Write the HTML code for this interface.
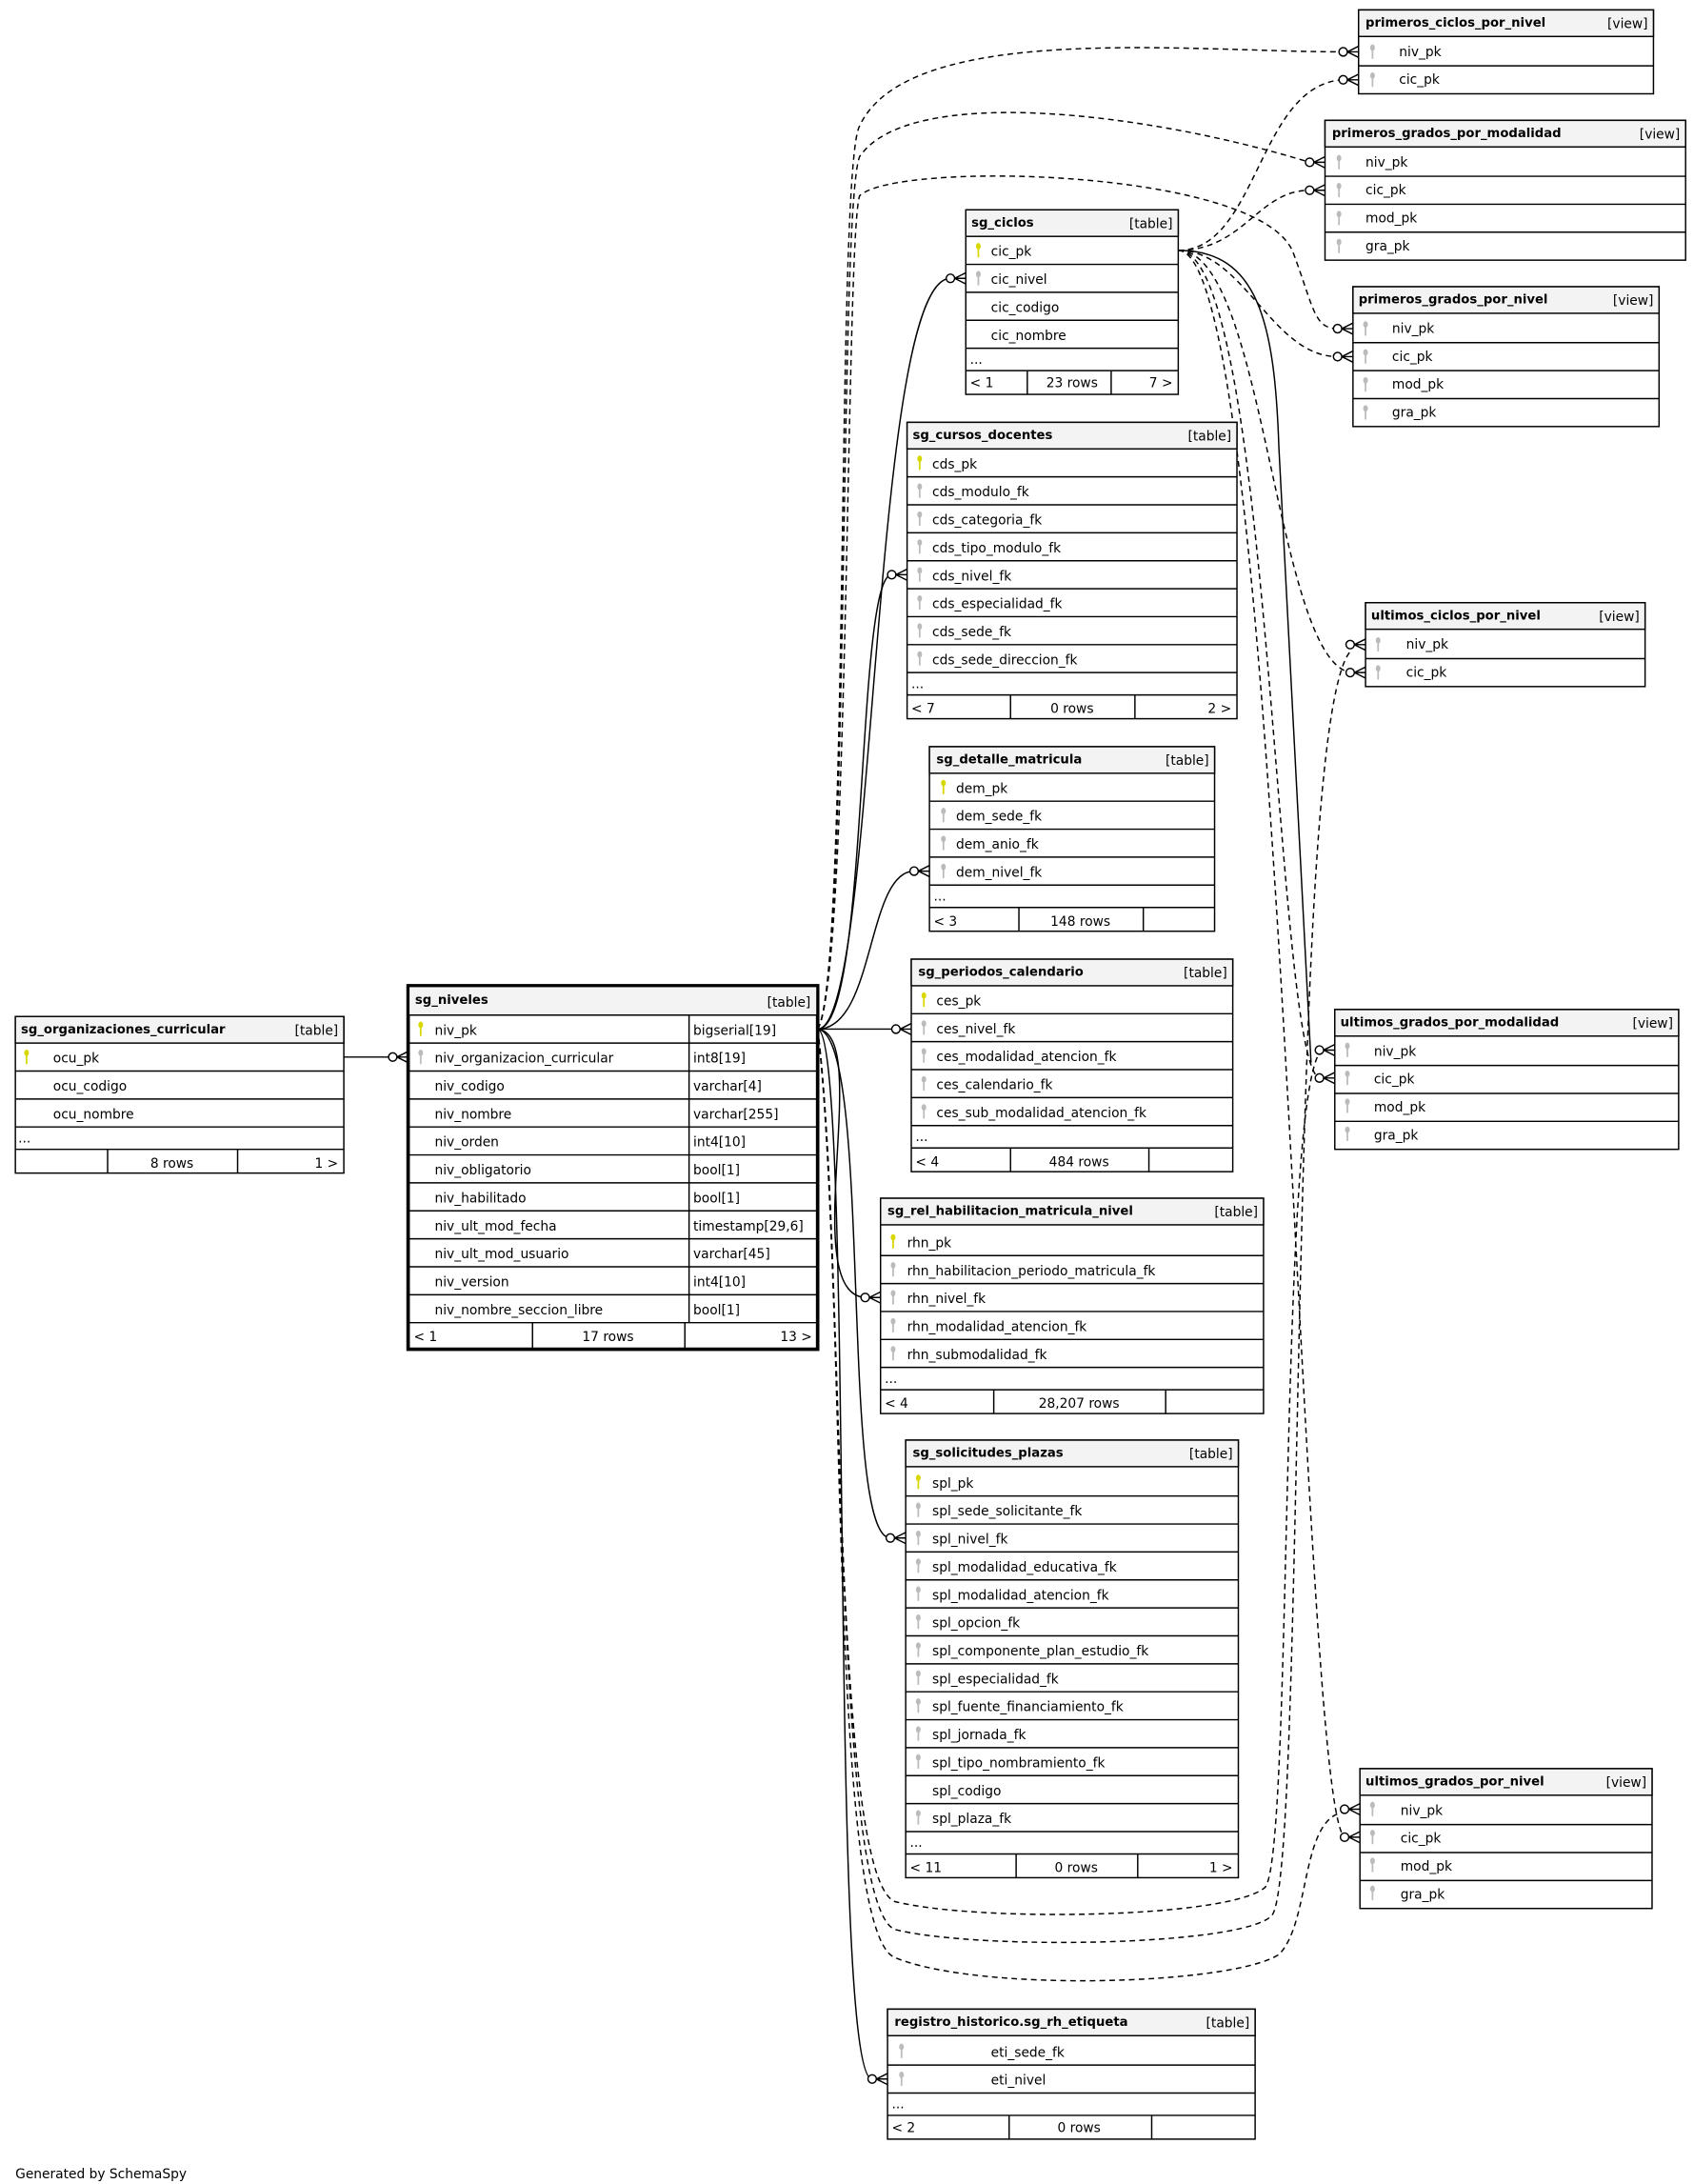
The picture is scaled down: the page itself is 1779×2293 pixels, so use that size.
<!DOCTYPE html>
<html><head><meta charset="utf-8"><style>
html,body{margin:0;padding:0;background:#fff}
svg{display:block}
text{font-family:"DejaVu Sans","Liberation Sans",sans-serif;font-size:9.4px;fill:#000}
.b{font-weight:bold;font-size:9px}
.t{stroke:#000;stroke-width:1;fill:none}
.d{stroke:#000;stroke-width:1;fill:none;stroke-dasharray:4,3}
</style></head><body>
<svg width="1779" height="2293" viewBox="0 0 1212 1562" xmlns="http://www.w3.org/2000/svg">
<defs>
<g id="kp"><ellipse cx="0" cy="-3" rx="1.7" ry="2.3" fill="#d8d800"/><rect x="-0.6" y="-1.5" width="1.2" height="6.5" fill="#d8d800"/></g>
<g id="kf"><ellipse cx="0" cy="-3" rx="1.7" ry="2.3" fill="#bbb"/><rect x="-0.6" y="-1.5" width="1.2" height="6.5" fill="#bbb"/></g>
<g id="cr"><path d="M-8,0 L0,-4 M-8,0 L0,0 M-8,0 L0,4" stroke="#000" stroke-width="1" fill="none"/><circle cx="-11" cy="0" r="3" fill="#fff" stroke="#000" stroke-width="1"/></g>
</defs>

<g>
<path class="t" d="M246,756 L281,756"/>
<path class="t" d="M585,736 C628,736 622,199 680,199"/>
<path class="t" d="M585,736 C622,736 612,411 638,411"/>
<path class="t" d="M585,736 C626,736 620,623 654,623"/>
<path class="t" d="M585,736 L641,736"/>
<path class="t" d="M585,736 C625,740 570,925 619,928"/>
<path class="t" d="M585,736 C625,740 600,1100 637,1100"/>
<path class="t" d="M585,736 C612,740 592,1487 624,1487"/>
<path class="d" d="M585,736 C608,700 598,120 615,90 C650,15 850,37 961,37"/>
<path class="d" d="M585,736 C608,700 600,150 615,112 C650,60 820,80 937,116"/>
<path class="d" d="M585,736 C608,700 605,170 615,140 C640,115 900,120 925,180 C940,220 940,235 957,235"/>
<path class="d" d="M585,736 C606,900 592,1380 640,1400 C700,1425 880,1420 915,1398 C938,1375 930,1300 962,1296"/>
<path class="d" d="M585,736 C604,900 595,1340 640,1360 C700,1375 880,1372 905,1350 C925,1330 915,800 944,753"/>
<path class="d" d="M585,736 C605,900 595,1360 640,1380 C700,1395 890,1392 910,1370 C935,1340 920,520 966,466"/>
<path class="d" d="M843,179 C900,179 900,60 961,57"/>
<path class="d" d="M843,179 C890,179 900,136 937,136"/>
<path class="d" d="M843,179 C890,179 910,255 957,255"/>
<path class="d" d="M843,179 C905,179 912,470 966,481"/>
<path class="d" d="M843,179 C910,179 912,760 944,771"/>
<path class="d" d="M843,179 C918,179 930,1290 962,1314"/>
<path class="t" d="M843,179 C900,179 912,230 915,320 L938,760"/>
</g>
<use href="#cr" x="292" y="756"/>
<use href="#cr" x="691" y="199"/>
<use href="#cr" x="649" y="411"/>
<use href="#cr" x="665" y="623"/>
<use href="#cr" x="652" y="736"/>
<use href="#cr" x="630" y="928"/>
<use href="#cr" x="648" y="1100"/>
<use href="#cr" x="635" y="1487"/>
<use href="#cr" x="972" y="37"/><use href="#cr" x="972" y="57"/>
<use href="#cr" x="948" y="116"/><use href="#cr" x="948" y="136"/>
<use href="#cr" x="968" y="235"/><use href="#cr" x="968" y="255"/>
<use href="#cr" x="977" y="461"/><use href="#cr" x="977" y="481"/>
<use href="#cr" x="955" y="751"/><use href="#cr" x="955" y="771"/>
<use href="#cr" x="973" y="1294"/><use href="#cr" x="973" y="1314"/>

<g>
<rect x="11" y="727" width="235" height="112" fill="#fff" stroke="#000"/>
<rect x="11" y="727" width="235" height="19" fill="#f3f3f3" stroke="#000"/>
<text x="15" y="739" class="b">sg_organizaciones_curricular</text><text x="242" y="740" text-anchor="end">[table]</text>
<path class="t" d="M11,766H246M11,786H246M11,806H246M11,822H246M77,822V839M170,822V839"/>
<use href="#kp" x="19" y="756"/>
<text x="38" y="760">ocu_pk</text><text x="38" y="780">ocu_codigo</text><text x="38" y="800">ocu_nombre</text>
<text x="13" y="817">...</text><text x="123" y="835" text-anchor="middle">8 rows</text><text x="242" y="835" text-anchor="end">1 &gt;</text>
</g>

<g>
<rect x="292" y="705" width="293" height="260" fill="#fff" stroke="#000" stroke-width="2.5"/>
<rect x="293" y="706" width="291" height="20" fill="#f3f3f3"/>
<text x="297" y="718" class="b">sg_niveles</text><text x="580" y="720" text-anchor="end">[table]</text>
<path class="t" d="M292,726H585M292,746H585M292,766H585M292,786H585M292,806H585M292,826H585M292,846H585M292,866H585M292,886H585M292,906H585M292,926H585M292,946H585M493,726V946M381,946V965M490,946V965"/>
<use href="#kp" x="301" y="736"/><use href="#kf" x="301" y="756"/>
<text x="311" y="740">niv_pk</text><text x="496" y="740">bigserial[19]</text>
<text x="311" y="760">niv_organizacion_curricular</text><text x="496" y="760">int8[19]</text>
<text x="311" y="780">niv_codigo</text><text x="496" y="780">varchar[4]</text>
<text x="311" y="800">niv_nombre</text><text x="496" y="800">varchar[255]</text>
<text x="311" y="820">niv_orden</text><text x="496" y="820">int4[10]</text>
<text x="311" y="840">niv_obligatorio</text><text x="496" y="840">bool[1]</text>
<text x="311" y="860">niv_habilitado</text><text x="496" y="860">bool[1]</text>
<text x="311" y="880">niv_ult_mod_fecha</text><text x="496" y="880">timestamp[29,6]</text>
<text x="311" y="900">niv_ult_mod_usuario</text><text x="496" y="900">varchar[45]</text>
<text x="311" y="920">niv_version</text><text x="496" y="920">int4[10]</text>
<text x="311" y="940">niv_nombre_seccion_libre</text><text x="496" y="940">bool[1]</text>
<text x="296" y="959">&lt; 1</text><text x="435" y="959" text-anchor="middle">17 rows</text><text x="581" y="959" text-anchor="end">13 &gt;</text>
</g>

<g>
<rect x="691" y="150" width="152" height="132" fill="#fff" stroke="#000"/>
<rect x="691" y="150" width="152" height="19" fill="#f3f3f3" stroke="#000"/>
<text x="695" y="162" class="b">sg_ciclos</text><text x="839" y="163" text-anchor="end">[table]</text>
<path class="t" d="M691,189H843M691,209H843M691,229H843M691,249H843M691,265H843M735,265V282M795,265V282"/>
<use href="#kp" x="700" y="179"/><use href="#kf" x="700" y="199"/>
<text x="709" y="183">cic_pk</text><text x="709" y="203">cic_nivel</text><text x="709" y="223">cic_codigo</text><text x="709" y="243">cic_nombre</text>
<text x="694" y="260">...</text><text x="694" y="277">&lt; 1</text><text x="767" y="277" text-anchor="middle">23 rows</text><text x="839" y="277" text-anchor="end">7 &gt;</text>
</g>

<g>
<rect x="649" y="302" width="236" height="212" fill="#fff" stroke="#000"/>
<rect x="649" y="302" width="236" height="19" fill="#f3f3f3" stroke="#000"/>
<text x="653" y="314" class="b">sg_cursos_docentes</text><text x="881" y="315" text-anchor="end">[table]</text>
<path class="t" d="M649,341H885M649,361H885M649,381H885M649,401H885M649,421H885M649,441H885M649,461H885M649,481H885M649,497H885M723,497V514M812,497V514"/>
<use href="#kp" x="658" y="331"/><use href="#kf" x="658" y="351"/><use href="#kf" x="658" y="371"/><use href="#kf" x="658" y="391"/><use href="#kf" x="658" y="411"/><use href="#kf" x="658" y="431"/><use href="#kf" x="658" y="451"/><use href="#kf" x="658" y="471"/>
<text x="667" y="335">cds_pk</text><text x="667" y="355">cds_modulo_fk</text><text x="667" y="375">cds_categoria_fk</text><text x="667" y="395">cds_tipo_modulo_fk</text><text x="667" y="415">cds_nivel_fk</text><text x="667" y="435">cds_especialidad_fk</text><text x="667" y="455">cds_sede_fk</text><text x="667" y="475">cds_sede_direccion_fk</text>
<text x="652" y="492">...</text><text x="652" y="510">&lt; 7</text><text x="767" y="510" text-anchor="middle">0 rows</text><text x="881" y="510" text-anchor="end">2 &gt;</text>
</g>

<g>
<rect x="665" y="534" width="204" height="132" fill="#fff" stroke="#000"/>
<rect x="665" y="534" width="204" height="19" fill="#f3f3f3" stroke="#000"/>
<text x="670" y="546" class="b">sg_detalle_matricula</text><text x="865" y="547" text-anchor="end">[table]</text>
<path class="t" d="M665,573H869M665,593H869M665,613H869M665,633H869M665,649H869M729,649V666M818,649V666"/>
<use href="#kp" x="675" y="563"/><use href="#kf" x="675" y="583"/><use href="#kf" x="675" y="603"/><use href="#kf" x="675" y="623"/>
<text x="684" y="567">dem_pk</text><text x="684" y="587">dem_sede_fk</text><text x="684" y="607">dem_anio_fk</text><text x="684" y="627">dem_nivel_fk</text>
<text x="668" y="644">...</text><text x="668" y="662">&lt; 3</text><text x="773" y="662" text-anchor="middle">148 rows</text>
</g>

<g>
<rect x="652" y="686" width="230" height="152" fill="#fff" stroke="#000"/>
<rect x="652" y="686" width="230" height="19" fill="#f3f3f3" stroke="#000"/>
<text x="657" y="698" class="b">sg_periodos_calendario</text><text x="878" y="699" text-anchor="end">[table]</text>
<path class="t" d="M652,725H882M652,745H882M652,765H882M652,785H882M652,805H882M652,821H882M723,821V838M822,821V838"/>
<use href="#kp" x="661" y="715"/><use href="#kf" x="661" y="735"/><use href="#kf" x="661" y="755"/><use href="#kf" x="661" y="775"/><use href="#kf" x="661" y="795"/>
<text x="670" y="719">ces_pk</text><text x="670" y="739">ces_nivel_fk</text><text x="670" y="759">ces_modalidad_atencion_fk</text><text x="670" y="779">ces_calendario_fk</text><text x="670" y="799">ces_sub_modalidad_atencion_fk</text>
<text x="655" y="816">...</text><text x="655" y="834">&lt; 4</text><text x="772" y="834" text-anchor="middle">484 rows</text>
</g>

<g>
<rect x="630" y="857" width="274" height="154" fill="#fff" stroke="#000"/>
<rect x="630" y="857" width="274" height="19" fill="#f3f3f3" stroke="#000"/>
<text x="635" y="869" class="b">sg_rel_habilitacion_matricula_nivel</text><text x="900" y="870" text-anchor="end">[table]</text>
<path class="t" d="M630,898H904M630,918H904M630,938H904M630,958H904M630,978H904M630,994H904M711,994V1011M834,994V1011"/>
<use href="#kp" x="639" y="888"/><use href="#kf" x="639" y="908"/><use href="#kf" x="639" y="928"/><use href="#kf" x="639" y="948"/><use href="#kf" x="639" y="968"/>
<text x="649" y="892">rhn_pk</text><text x="649" y="912">rhn_habilitacion_periodo_matricula_fk</text><text x="649" y="932">rhn_nivel_fk</text><text x="649" y="952">rhn_modalidad_atencion_fk</text><text x="649" y="972">rhn_submodalidad_fk</text>
<text x="633" y="989">...</text><text x="633" y="1007">&lt; 4</text><text x="772" y="1007" text-anchor="middle">28,207 rows</text>
</g>

<g>
<rect x="648" y="1030" width="238" height="313" fill="#fff" stroke="#000"/>
<rect x="648" y="1030" width="238" height="19" fill="#f3f3f3" stroke="#000"/>
<text x="653" y="1042" class="b">sg_solicitudes_plazas</text><text x="882" y="1043" text-anchor="end">[table]</text>
<path class="t" d="M648,1070H886M648,1090H886M648,1110H886M648,1130H886M648,1150H886M648,1170H886M648,1190H886M648,1210H886M648,1230H886M648,1250H886M648,1270H886M648,1290H886M648,1310H886M648,1326H886M727,1326V1343M814,1326V1343"/>
<use href="#kp" x="657" y="1060"/><use href="#kf" x="657" y="1080"/><use href="#kf" x="657" y="1100"/><use href="#kf" x="657" y="1120"/><use href="#kf" x="657" y="1140"/><use href="#kf" x="657" y="1160"/><use href="#kf" x="657" y="1180"/><use href="#kf" x="657" y="1200"/><use href="#kf" x="657" y="1220"/><use href="#kf" x="657" y="1240"/><use href="#kf" x="657" y="1260"/><use href="#kf" x="657" y="1300"/>
<text x="667" y="1064">spl_pk</text><text x="667" y="1084">spl_sede_solicitante_fk</text><text x="667" y="1104">spl_nivel_fk</text><text x="667" y="1124">spl_modalidad_educativa_fk</text><text x="667" y="1144">spl_modalidad_atencion_fk</text><text x="667" y="1164">spl_opcion_fk</text><text x="667" y="1184">spl_componente_plan_estudio_fk</text><text x="667" y="1204">spl_especialidad_fk</text><text x="667" y="1224">spl_fuente_financiamiento_fk</text><text x="667" y="1244">spl_jornada_fk</text><text x="667" y="1264">spl_tipo_nombramiento_fk</text><text x="667" y="1284">spl_codigo</text><text x="667" y="1304">spl_plaza_fk</text>
<text x="651" y="1321">...</text><text x="651" y="1339">&lt; 11</text><text x="770" y="1339" text-anchor="middle">0 rows</text><text x="882" y="1339" text-anchor="end">1 &gt;</text>
</g>

<g>
<rect x="635" y="1437" width="263" height="93" fill="#fff" stroke="#000"/>
<rect x="635" y="1437" width="263" height="19" fill="#f3f3f3" stroke="#000"/>
<text x="640" y="1449" class="b">registro_historico.sg_rh_etiqueta</text><text x="894" y="1450" text-anchor="end">[table]</text>
<path class="t" d="M635,1477H898M635,1497H898M635,1513H898M722,1513V1530M824,1513V1530"/>
<use href="#kf" x="645" y="1467"/><use href="#kf" x="645" y="1487"/>
<text x="709" y="1471">eti_sede_fk</text><text x="709" y="1491">eti_nivel</text>
<text x="638" y="1508">...</text><text x="638" y="1525">&lt; 2</text><text x="772" y="1525" text-anchor="middle">0 rows</text>
</g>

<g>
<rect x="972" y="7" width="211" height="60" fill="#fff" stroke="#000"/>
<rect x="972" y="7" width="211" height="19" fill="#f3f3f3" stroke="#000"/>
<text x="977" y="19" class="b">primeros_ciclos_por_nivel</text><text x="1179" y="20" text-anchor="end">[view]</text>
<path class="t" d="M972,47H1183"/>
<use href="#kf" x="982" y="37"/><use href="#kf" x="982" y="57"/>
<text x="1001" y="40">niv_pk</text><text x="1001" y="60">cic_pk</text>
</g>
<g>
<rect x="948" y="86" width="258" height="100" fill="#fff" stroke="#000"/>
<rect x="948" y="86" width="258" height="19" fill="#f3f3f3" stroke="#000"/>
<text x="953" y="98" class="b">primeros_grados_por_modalidad</text><text x="1202" y="99" text-anchor="end">[view]</text>
<path class="t" d="M948,126H1206M948,146H1206M948,166H1206"/>
<use href="#kf" x="958" y="116"/><use href="#kf" x="958" y="136"/><use href="#kf" x="958" y="156"/><use href="#kf" x="958" y="176"/>
<text x="977" y="119">niv_pk</text><text x="977" y="139">cic_pk</text><text x="977" y="159">mod_pk</text><text x="977" y="179">gra_pk</text>
</g>
<g>
<rect x="968" y="205" width="219" height="100" fill="#fff" stroke="#000"/>
<rect x="968" y="205" width="219" height="19" fill="#f3f3f3" stroke="#000"/>
<text x="972" y="217" class="b">primeros_grados_por_nivel</text><text x="1183" y="218" text-anchor="end">[view]</text>
<path class="t" d="M968,245H1187M968,265H1187M968,285H1187"/>
<use href="#kf" x="977" y="235"/><use href="#kf" x="977" y="255"/><use href="#kf" x="977" y="275"/><use href="#kf" x="977" y="295"/>
<text x="996" y="238">niv_pk</text><text x="996" y="258">cic_pk</text><text x="996" y="278">mod_pk</text><text x="996" y="298">gra_pk</text>
</g>
<g>
<rect x="977" y="431" width="200" height="60" fill="#fff" stroke="#000"/>
<rect x="977" y="431" width="200" height="19" fill="#f3f3f3" stroke="#000"/>
<text x="981" y="443" class="b">ultimos_ciclos_por_nivel</text><text x="1173" y="444" text-anchor="end">[view]</text>
<path class="t" d="M977,471H1177"/>
<use href="#kf" x="986" y="461"/><use href="#kf" x="986" y="481"/>
<text x="1006" y="464">niv_pk</text><text x="1006" y="484">cic_pk</text>
</g>
<g>
<rect x="955" y="722" width="246" height="100" fill="#fff" stroke="#000"/>
<rect x="955" y="722" width="246" height="19" fill="#f3f3f3" stroke="#000"/>
<text x="959" y="734" class="b">ultimos_grados_por_modalidad</text><text x="1197" y="735" text-anchor="end">[view]</text>
<path class="t" d="M955,762H1201M955,782H1201M955,802H1201"/>
<use href="#kf" x="964" y="751"/><use href="#kf" x="964" y="771"/><use href="#kf" x="964" y="791"/><use href="#kf" x="964" y="811"/>
<text x="983" y="755">niv_pk</text><text x="983" y="775">cic_pk</text><text x="983" y="795">mod_pk</text><text x="983" y="815">gra_pk</text>
</g>
<g>
<rect x="973" y="1265" width="209" height="100" fill="#fff" stroke="#000"/>
<rect x="973" y="1265" width="209" height="19" fill="#f3f3f3" stroke="#000"/>
<text x="977" y="1277" class="b">ultimos_grados_por_nivel</text><text x="1178" y="1278" text-anchor="end">[view]</text>
<path class="t" d="M973,1305H1182M973,1325H1182M973,1345H1182"/>
<use href="#kf" x="982" y="1294"/><use href="#kf" x="982" y="1314"/><use href="#kf" x="982" y="1334"/><use href="#kf" x="982" y="1354"/>
<text x="1002" y="1298">niv_pk</text><text x="1002" y="1318">cic_pk</text><text x="1002" y="1338">mod_pk</text><text x="1002" y="1358">gra_pk</text>
</g>

<text x="11" y="1558">Generated by SchemaSpy</text>
</svg>
</body></html>
